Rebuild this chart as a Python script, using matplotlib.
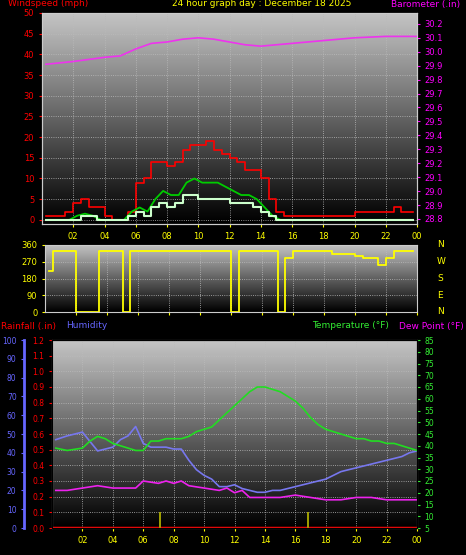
import numpy as np
import matplotlib
matplotlib.use("Agg")
import matplotlib.pyplot as plt

hours = np.arange(0.25, 24.01, 0.5)  # 48 half-hour points
gust = [1,1,1,2,4,5,3,3,1,0,0,2, 9,10,14,14,13,14,17,18,18,19,17,16,15,14,12,12,10,5, 2,1,1,1,1,1,1,1,1,1,2,2,2,2,2,3,2,2]
avgw = [0,0,0,0,1,1.5,1,0,0,0,0,2, 3,2,5,7,6,6,9,10,9,9,9,8,7,6,6,5,3,1] + [0]*18
wind = [0,0,0,0,0,1,1,0,0,0,0,1, 2,1,3,4,3,4,6,6,5,5,5,5,4,4,4,3,2,1] + [0]*18
baro_t = [0.25,2,4,5,6,7,8,9,10,11,12,13,14,15,16,18,20,22,24]
baro = [29.91,29.93,29.96,29.97,30.02,30.06,30.07,30.09,30.10,30.09,30.07,30.05,30.04,30.05,30.06,30.08,30.10,30.11,30.11]
wdir = [220,330,330,330,0,0,0,330,330,330,0,330, 330,330,330,330,330,330,330,330,330,330,330,330,0,330,330,330,330,330,
        0,290,330,330,330,330,330,310,310,310,300,290,290,250,290,330,330,330]
hum_t = [0.25,1,2,2.5,3,3.5,4,4.5,5,5.5,6,6.5,7,7.5,8,8.5,9,9.5,10,10.5,11,11.5,12,12.5,13,13.5,14,14.5,15,15.5,16,16.5,17,17.5,18,18.5,19,19.5,20,20.5,21,21.5,22,22.5,23,23.5,24]
hum = [47,49,51,46,41,42,43,47,49,54,45,43,43,43,42,42,36,31,28,26,22,22,23,21,20,19,19,20,20,21,22,23,24,25,26,28,30,31,32,33,34,35,36,37,38,40,41]
temp = [39,38,39,42,44,43,41,40,39,38,38,42,42,43,43,43,44,46,47,48,51,54,57,60,63,65,65,64,63,61,59,56,52,49,47,46,45,44,43,43,42,42,41,41,40,39,38]
dew_t = [0.25,1,2,3,4,5,5.5,6,7,7.5,8,8.5,9,10,11,11.5,12,12.5,13,14,15,16,17,18,19,20,21,22,23,24]
dew = [21,21,22,23,22,22,22,25,24,25,24,25,23,22,21,22,20,21,18,18,18,19,18,17,17,18,18,17,17,17]
rain_t = [7.1, 16.8]
rain_h = [0.1, 0.1]
xt = list(range(2, 25, 2)); xl = ["02","04","06","08","10","12","14","16","18","20","22","00"]

W, H = 466, 555
fig = plt.figure(figsize=(W/100, H/100), dpi=100, facecolor="black")
def ax_at(l, t, r, b):
    return fig.add_axes([l/W, 1-b/H, (r-l)/W, (b-t)/H])
def bg(ax):
    g = np.linspace(0, 1, 100).reshape(-1, 1)
    ax.imshow(g, cmap="gray", aspect="auto", extent=[0, 24, 0, 1], transform=ax.transAxes, vmin=0, vmax=1.3, zorder=0, origin="lower")
    ax.set_facecolor("black")
    ax.grid(color="#bbbbbb", ls=":", lw=0.6)
    for s in ax.spines.values(): s.set_color("#cccccc")
    ax.set_xlim(0, 24)
    ax.set_xticks(xt); ax.set_xticklabels(xl, color="yellow", fontsize=6)
    ax.tick_params(colors="yellow", labelsize=6, length=2)
fs = 6.5
# top
a1 = ax_at(42, 13, 417, 224); bg(a1)
a1.set_ylim(-1, 50); a1.set_yticks(range(0, 51, 5))
a1.tick_params(axis="y", colors="red")
a1.step(hours, gust, color="red", lw=1.2, where="mid")
a1.plot(hours, avgw, color="#00cc00", lw=1.3)
a1.step(hours, wind, color="#ccffcc", lw=1.5, where="mid")
b1 = a1.twinx(); b1.set_ylim(28.764, 30.278); b1.set_yticks(np.round(np.arange(28.8, 30.21, 0.1), 1))
b1.tick_params(colors="magenta", labelsize=6, length=2)
for s in b1.spines.values(): s.set_color("#cccccc")
b1.plot(baro_t, baro, color="#ee33ee", lw=1.2)
fig.text(8/W, 1-4/H, "Windspeed (mph)", color="red", fontsize=fs, va="center")
fig.text(172/W, 1-4/H, "24 hour graph day : December 18 2025", color="yellow", fontsize=fs, va="center")
fig.text(460/W, 1-4/H, "Barometer (.in)", color="magenta", fontsize=fs, va="center", ha="right")
# middle
a2 = ax_at(45, 245, 417, 312); bg(a2)
a2.set_xticklabels([])
a2.set_ylim(0, 360); a2.set_yticks([0, 90, 180, 270, 360])
a2.tick_params(axis="y", colors="yellow")
a2.step(hours, wdir, color="yellow", lw=1.3, where="mid")
for i, s in enumerate(["N", "W", "S", "E", "N"]):
    fig.text(437/W, 1-(245+i*16.75)/H, s, color="yellow", fontsize=fs, va="center")
# bottom
a3 = ax_at(52, 340, 417, 528); bg(a3)
a3.set_ylim(0, 1.2); a3.set_yticks(np.round(np.arange(0, 1.21, 0.1), 1))
a3.tick_params(axis="y", colors="red", labelsize=5.5)
a3.axhline(0.003, color="red", lw=2.5)
a3.vlines(rain_t, 0, rain_h, color="#bbbb00", lw=1.2)
h3 = a3.twinx(); h3.set_ylim(0, 100); h3.set_yticks(range(0, 101, 10))
h3.yaxis.tick_left(); h3.spines["left"].set_position(("outward", 20)); h3.spines["left"].set_color("#6666ff")
h3.spines["left"].set_linewidth(2)
h3.tick_params(colors="#6666ff", labelsize=5.5, length=2)
h3.plot(hum_t, hum, color="#7777ee", lw=1.2)
t3 = a3.twinx(); t3.set_ylim(5, 85); t3.set_yticks(range(5, 86, 5))
t3.tick_params(colors="#33ee33", labelsize=5.5, length=2)
t3.plot(hum_t, temp, color="#22dd22", lw=1.2)
t3.plot(dew_t, dew, color="#ee22ee", lw=1.2)
fig.text(1/W, 1-326/H, "Rainfall (.in)", color="red", fontsize=fs, va="center")
fig.text(66/W, 1-326/H, "Humidity", color="#6666ff", fontsize=fs, va="center")
fig.text(312/W, 1-326/H, "Temperature (°F)", color="#33ee33", fontsize=fs, va="center")
fig.text(464/W, 1-326/H, "Dew Point (°F)", color="magenta", fontsize=fs, va="center", ha="right")
fig.savefig("out.png", dpi=100, facecolor="black")
